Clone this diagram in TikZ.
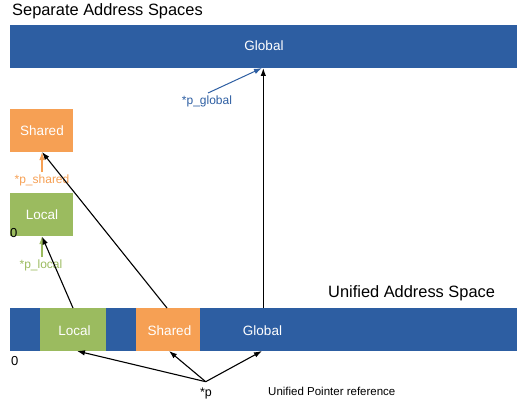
\documentclass[tikz,border=0pt]{standalone}
\usepackage{fontspec}
\setmainfont{Liberation Sans}
\usetikzlibrary{arrows.meta}
\definecolor{cblue}{HTML}{2D5EA2}
\definecolor{corange}{HTML}{F6A054}
\definecolor{cgreen}{HTML}{9BBB5F}
\tikzset{
  seg/.style={draw=none, inner sep=0pt, anchor=north west},
  boxtxt/.style={text=white, inner sep=0pt, anchor=base, font=\fontsize{13.5}{16}\selectfont},
  big/.style={inner sep=0pt, anchor=base west, font=\fontsize{16.4}{19}\selectfont},
  small/.style={inner sep=0pt, anchor=base, font=\fontsize{12}{14}\selectfont},
  ptr/.style={draw=black, line width=1.1pt, -{Latex[length=8pt,width=5.5pt]}},
}
\begin{document}
\begin{tikzpicture}[x=1pt,y=-1pt]
\useasboundingbox (0,0) rectangle (522,404);
% separate spaces
\node[big] (t1) at (12,15.5) {Separate Address Spaces};
\node[seg, fill=cblue, minimum width=507pt, minimum height=42.7pt] (gtop) at (10,25) {};
\node[boxtxt] (gtoptxt) at (264,50.5) {Global};
\node[seg, fill=corange, minimum width=62.7pt, minimum height=42.7pt] (stop) at (10,109) {};
\node[boxtxt] (stoptxt) at (42,135) {Shared};
\node[seg, fill=cgreen, minimum width=62.7pt, minimum height=42.7pt] (ltop) at (10,193) {};
\node[boxtxt] (ltoptxt) at (42,219) {Local};
\node[inner sep=0pt, anchor=base west, font=\fontsize{13}{15}\selectfont] (z1) at (10,237) {0};
% pointer labels
\node[small, text=cblue] (pg) at (207,104.5) {*p\_global};
\node[small, text=corange] (ps) at (42,183) {*p\_shared};
\node[small, text=cgreen] (pl) at (41,268) {*p\_local};
\coordinate (pgs) at (208,93);
\coordinate (pge) at (262,68);
\coordinate (pss) at (42,172);
\coordinate (pse) at (42,152);
\coordinate (pls) at (42,257);
\coordinate (ple) at (42,236);
\draw[ptr, draw=cblue, line width=1pt, -{Latex[length=8pt,width=5.5pt]}, color=cblue] (pgs) -- (pge);
\draw[ptr, draw=corange, color=corange] (pss) -- (pse);
\draw[ptr, draw=cgreen, color=cgreen] (pls) -- (ple);
% unified space
\node[big] (t2) at (328,297.5) {Unified Address Space};
\node[seg, fill=cblue, minimum width=507pt, minimum height=43pt] (ubar) at (10,308) {};
\node[seg, fill=cgreen, minimum width=66pt, minimum height=43pt] (ulocal) at (40,308) {};
\node[seg, fill=corange, minimum width=64pt, minimum height=43pt] (ushared) at (136,308) {};
\node[boxtxt] (ultxt) at (74.5,335) {Local};
\node[boxtxt] (ustxt) at (169.5,335) {Shared};
\node[boxtxt] (ugtxt) at (262.5,335) {Global};
\node[inner sep=0pt, anchor=base west, font=\fontsize{13}{15}\selectfont] (z2) at (11,365) {0};
% mapping arrows
\coordinate (ml) at (73,308);
\coordinate (ms) at (167,308);
\coordinate (mg) at (263.3,308);
\coordinate (mlt) at (42,236.5);
\coordinate (mst) at (42,152);
\coordinate (mgt) at (263.3,68);
\draw[ptr] (ml) -- (mlt);
\draw[ptr] (ms) -- (mst);
\draw[ptr] (mg) -- (mgt);
% unified pointer
\node[inner sep=0pt, anchor=base, font=\fontsize{12.5}{15}\selectfont] (p) at (206,396) {*p};
\coordinate (ps0) at (205.7,381.7);
\coordinate (tl) at (77,351);
\coordinate (tsh) at (169,351);
\coordinate (tg) at (262,351);
\draw[ptr] (ps0) -- (tl);
\draw[ptr] (ps0) -- (tsh);
\draw[ptr] (ps0) -- (tg);
\node[inner sep=0pt, anchor=base west, font=\fontsize{11.5}{14}\selectfont] (upr) at (268,395) {Unified Pointer reference};
\end{tikzpicture}
\end{document}
